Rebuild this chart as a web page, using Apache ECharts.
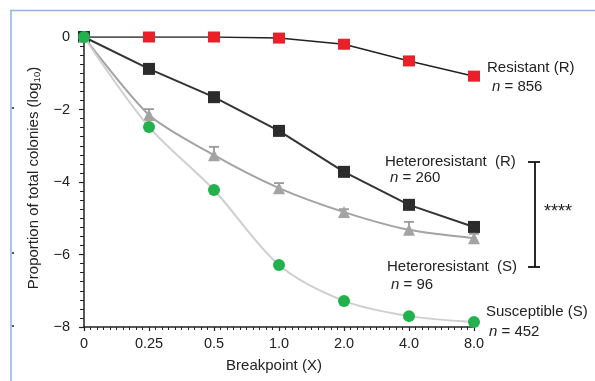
<!DOCTYPE html>
<html><head><meta charset="utf-8">
<script src="https://cdn.jsdelivr.net/npm/echarts@6/dist/echarts.min.js"></script>
<style>html,body{margin:0;padding:0;background:#fff}#c{width:595px;height:381px}</style>
</head><body><div id="c"></div>
<script>
var categories = ['0', '0.25', '0.5', '1.0', '2.0', '4.0', '8.0'];
var yTicks = [-8, -6, -4, -2, 0];
var resistant = [0, 0, 0, -0.03, -0.2, -0.66, -1.08];
var heteroR = [0, -0.88, -1.66, -2.59, -3.72, -4.63, -5.24];
var heteroS = [0, -2.15, -3.26, -4.17, -4.83, -5.32, -5.55];
var heteroSErr = [0, 0.16, 0.23, 0.14, 0.08, 0.22, 0.12];
var susceptible = [0, -2.48, -4.22, -6.29, -7.28, -7.7, -7.86];

function pts(arr) { return arr.map(function (v, i) { return [i, v]; }); }
var FONT = 'Liberation Sans';
var LBL = 15;

var chart = echarts.init(document.getElementById('c'), null, { renderer: 'canvas' });
function txt(x, y, t) {
  return { type: 'text', left: x, top: y, style: { text: t, fontSize: LBL, fill: '#222', fontFamily: FONT,
    rich: { i: { fontStyle: 'italic', fontSize: LBL, fontFamily: FONT, fill: '#222' } } } };
}
chart.setOption({
  animation: false,
  backgroundColor: '#fff',
  textStyle: { fontFamily: FONT },
  grid: { left: 84, right: 121, top: 37, bottom: 54 },
  xAxis: {
    type: 'value', min: 0, max: categories.length - 1, interval: 1,
    axisLine: { show: true, onZero: false, lineStyle: { color: '#222', width: 1.5 } },
    axisTick: { show: true, length: 4, lineStyle: { color: '#222', width: 1.2 } },
    minorTick: { show: true, splitNumber: 10, length: 3, lineStyle: { color: '#222', width: 1 } },
    splitLine: { show: false },
    axisLabel: { fontSize: 14.5, color: '#222', margin: 9, fontFamily: FONT,
      formatter: function (v) { return categories[Math.round(v)]; } },
    name: 'Breakpoint (X)', nameLocation: 'middle', nameGap: 31,
    nameTextStyle: { fontSize: 15, color: '#222', fontFamily: FONT, padding: [0, 10, 0, 0] }
  },
  yAxis: {
    type: 'value', min: yTicks[0], max: yTicks[yTicks.length - 1], interval: 2,
    axisLine: { show: true, lineStyle: { color: '#222', width: 1.5 } },
    axisTick: { show: true, length: 5, lineStyle: { color: '#222', width: 1.2 } },
    minorTick: { show: true, splitNumber: 8, length: 4, lineStyle: { color: '#222', width: 1 } },
    splitLine: { show: false },
    axisLabel: { fontSize: 14.5, color: '#222', margin: 14, fontFamily: FONT,
      formatter: function (v) { return v < 0 ? '\u2212' + Math.abs(v) : String(v); } },
    name: '{a|Proportion of total colonies (log}{s|10}{a|)}',
    nameLocation: 'middle', nameRotate: 90, nameGap: 42,
    nameTextStyle: { padding: [0, 0, 0, 8], rich: { a: { fontSize: 15, color: '#222', fontFamily: FONT },
      s: { fontSize: 9.5, color: '#222', fontFamily: FONT, verticalAlign: 'bottom', padding: [7, 0, 0, 0] } } }
  },
  series: [
    { name: 'Resistant', type: 'line', data: pts(resistant), z: 3,
      lineStyle: { color: '#222', width: 1.5 }, symbol: 'rect', symbolSize: [12, 11],
      itemStyle: { color: '#e8202a', borderWidth: 0 } },
    { name: 'HeteroR', type: 'line', data: pts(heteroR), z: 4,
      lineStyle: { color: '#333', width: 2 }, symbol: 'rect', symbolSize: 12,
      itemStyle: { color: '#2c2c2c', borderWidth: 0 } },
    { name: 'HeteroSErr', type: 'custom', z: 5,
      data: heteroS.map(function (v, i) { return [i, v + heteroSErr[i], v]; }),
      renderItem: function (params, api) {
        var top = api.coord([api.value(0), api.value(1)]);
        var bot = api.coord([api.value(0), api.value(2)]);
        var w = 5;
        var st = { stroke: '#9a9a9a', lineWidth: 1.8 };
        return { type: 'group', children: [
          { type: 'line', shape: { x1: top[0], y1: top[1], x2: bot[0], y2: bot[1] }, style: st },
          { type: 'line', shape: { x1: top[0] - w, y1: top[1], x2: top[0] + w, y2: top[1] }, style: st }
        ] };
      } },
    { name: 'HeteroS', type: 'line', data: pts(heteroS), z: 6, smooth: 0.25,
      lineStyle: { color: '#a3a3a3', width: 2 }, symbol: 'triangle', symbolSize: 12,
      itemStyle: { color: '#a3a3a3', borderWidth: 0 } },
    { name: 'Susceptible', type: 'line', data: pts(susceptible), z: 7, smooth: 0.3,
      lineStyle: { color: '#cfcfcf', width: 2 }, symbol: 'circle', symbolSize: 12,
      itemStyle: { color: '#22b14c', borderWidth: 0 } }
  ],
  graphic: [
    { type: 'line', shape: { x1: 10, y1: 10.5, x2: 595, y2: 10.5 }, style: { stroke: '#8fb2e3', lineWidth: 1.5 }, silent: true },
    { type: 'line', shape: { x1: 11, y1: 10, x2: 11, y2: 381 }, style: { stroke: '#8fb2e3', lineWidth: 1.5 }, silent: true },
    { type: 'rect', shape: { x: 12, y: 107, width: 2, height: 2 }, style: { fill: '#555' } },
    { type: 'rect', shape: { x: 12, y: 252, width: 2, height: 2 }, style: { fill: '#555' } },
    { type: 'rect', shape: { x: 12, y: 325, width: 2, height: 2 }, style: { fill: '#555' } },
    txt(487, 60, 'Resistant (R)'),
    txt(492, 79, '{i|n} = 856'),
    txt(385, 154, 'Heteroresistant  (R)'),
    txt(390, 170, '{i|n} = 260'),
    txt(387, 259, 'Heteroresistant  (S)'),
    txt(391, 277, '{i|n} = 96'),
    txt(486, 304, 'Susceptible (S)'),
    txt(489, 324, '{i|n} = 452'),
    { type: 'line', shape: { x1: 535, y1: 162, x2: 535, y2: 267 }, style: { stroke: '#111', lineWidth: 1.8 } },
    { type: 'line', shape: { x1: 528, y1: 162, x2: 540, y2: 162 }, style: { stroke: '#111', lineWidth: 1.8 } },
    { type: 'line', shape: { x1: 528, y1: 267, x2: 540, y2: 267 }, style: { stroke: '#111', lineWidth: 1.8 } },
    { type: 'text', left: 544, top: 203, style: { text: '****', fontSize: 18, fill: '#222', fontFamily: FONT } }
  ]
});
</script></body></html>
